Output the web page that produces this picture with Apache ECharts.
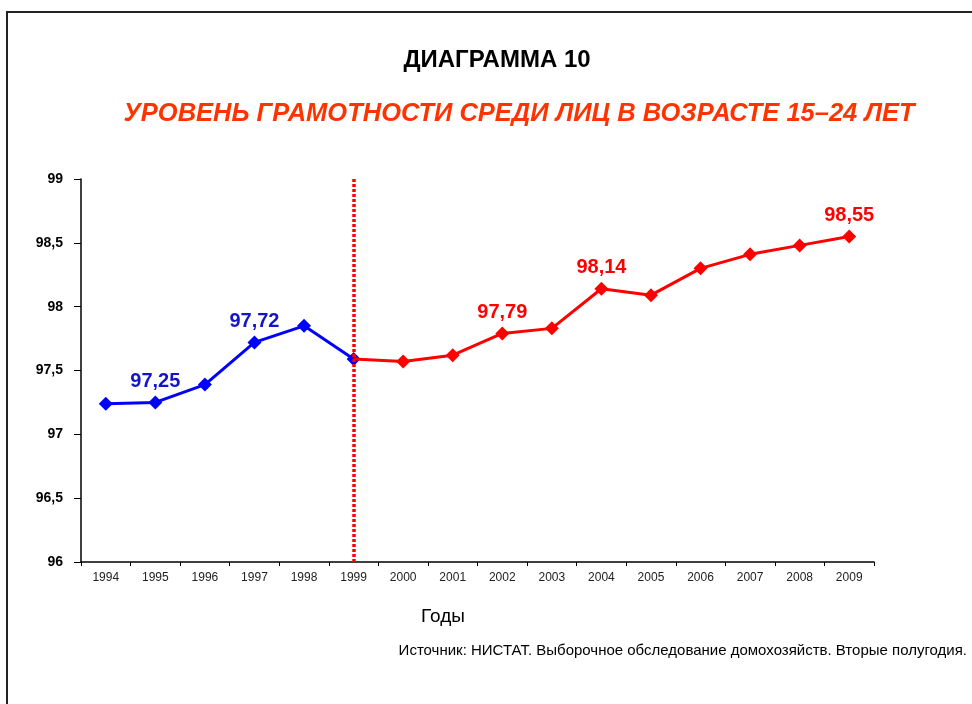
<!DOCTYPE html>
<html>
<head>
<meta charset="utf-8">
<script src="https://cdn.jsdelivr.net/npm/echarts@6/dist/echarts.min.js"></script>
<style>
  html, body { margin: 0; padding: 0; background: #fff; }
  #chart { width: 972px; height: 704px; }
</style>
</head>
<body>
<div id="chart"></div>
<script>
// годы и значения
var years = ['1994', '1995', '1996', '1997', '1998', '1999', '2000', '2001',
  '2002', '2003', '2004', '2005', '2006', '2007', '2008', '2009']
// до 1999 включительно - синяя линия
var blueValues = [97.24, 97.25, 97.39, 97.72, 97.85, 97.59, null, null,
  null, null, null, null, null, null, null, null]
// с 1999 - красная линия
var redValues = [null, null, null, null, null, 97.59, 97.57, 97.62,
  97.79, 97.83, 98.14, 98.09, 98.30, 98.41, 98.48, 98.55]
var labeledYears = ['1995', '1997', '2002', '2004', '2009']
var yTicks = [96, 96.5, 97, 97.5, 98, 98.5, 99]
var splitYear = '1999'

var FONT = '"Liberation Sans", Arial, sans-serif'

function fmt(v) {
  return String(v).replace('.', ',')
}

// точки с подписями
function buildData(values, color, hideFirst) {
  return values.map(function (v, i) {
    if (v === null) return null
    var item = { value: v }
    if (labeledYears.indexOf(years[i]) >= 0) {
      item.label = {
        show: true,
        position: 'top',
        distance: 4,
        formatter: function (p) { return fmt(p.value) },
        color: color,
        fontSize: 20,
        fontWeight: 'bold',
        fontFamily: FONT
      }
    }
    if (hideFirst && years[i] === splitYear) {
      item.symbol = 'none'
    }
    return item
  })
}

var chart = echarts.init(document.getElementById('chart'))
var option = {
  backgroundColor: '#fff',
  animation: false,
  title: [
    {
      text: 'ДИАГРАММА 10',
      left: 492,
      top: 43,
      textAlign: 'center',
      textStyle: { fontFamily: FONT, fontSize: 24, fontWeight: 'bold', color: '#000' }
    },
    {
      text: 'УРОВЕНЬ ГРАМОТНОСТИ СРЕДИ ЛИЦ В ВОЗРАСТЕ 15–24 ЛЕТ',
      left: 514,
      top: 96,
      textAlign: 'center',
      textStyle: { fontFamily: FONT, fontSize: 25.5, fontWeight: 'bold', fontStyle: 'italic', color: '#ff3300' }
    }
  ],
  grid: {
    left: 81,
    right: 98,
    top: 179,
    bottom: 142
  },
  xAxis: {
    type: 'category',
    data: years,
    boundaryGap: true,
    axisLine: { lineStyle: { color: '#000', width: 1.5 } },
    axisTick: { show: true, length: 4, lineStyle: { color: '#000' } },
    axisLabel: { color: '#222', fontSize: 12, fontFamily: FONT, margin: 10 },
    splitLine: { show: false }
  },
  yAxis: {
    type: 'value',
    min: yTicks[0],
    max: yTicks[yTicks.length - 1],
    interval: 0.5,
    axisLine: { show: true, lineStyle: { color: '#000', width: 1.5 } },
    axisTick: { show: true, length: 7, lineStyle: { color: '#000' } },
    axisLabel: {
      color: '#000',
      fontSize: 14,
      fontWeight: 'bold',
      fontFamily: FONT,
      margin: 18,
      formatter: function (v) { return fmt(v) }
    },
    splitLine: { show: false }
  },
  series: [
    {
      name: 'blue',
      type: 'line',
      data: buildData(blueValues, '#1414c8', false),
      symbol: 'diamond',
      symbolSize: 14,
      lineStyle: { color: '#0000ff', width: 3 },
      itemStyle: { color: '#0000ff' },
      z: 2
    },
    {
      name: 'red',
      type: 'line',
      data: buildData(redValues, '#ff0000', true),
      symbol: 'diamond',
      symbolSize: 14,
      lineStyle: { color: '#ff0000', width: 3 },
      itemStyle: { color: '#ff0000' },
      z: 3,
      markLine: {
        silent: true,
        symbol: 'none',
        label: { show: false },
        lineStyle: { color: '#ff0000', width: 3.5, type: [3, 2] },
        data: [{ xAxis: splitYear }]
      }
    }
  ],
  graphic: [
    {
      type: 'rect',
      shape: { x: 7, y: 12, width: 1000, height: 1000 },
      style: { fill: 'none', stroke: '#222', lineWidth: 2 },
      silent: true
    },
    {
      type: 'text',
      left: 421,
      top: 607,
      style: { text: 'Годы', fontFamily: FONT, fontSize: 19, fill: '#000' }
    },
    {
      type: 'text',
      right: 5,
      top: 643,
      style: {
        text: 'Источник: НИСТАТ. Выборочное обследование домохозяйств. Вторые полугодия.',
        fontFamily: FONT,
        fontSize: 15,
        fill: '#000'
      }
    }
  ]
}
chart.setOption(option)
</script>
</body>
</html>
